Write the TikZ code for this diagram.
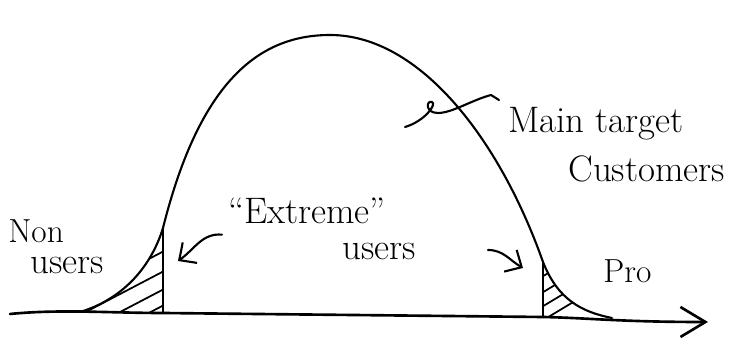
\documentclass[tikz,border=0pt]{standalone}
\usepackage{tikz}
\usetikzlibrary{arrows.meta}

\begin{document}
\begin{tikzpicture}[
		x=0.02cm, y=-0.02cm,
		pen/.style={line width=1.2pt, line cap=round, line join=round},
		hatch/.style={line width=1pt, line cap=round},
		arr/.style={pen, -{Straight Barb[length=2.6mm, width=5mm]}},
		lbl/.style={font=\fontsize{21}{24}\selectfont, inner sep=0pt, anchor=base west}
		]
		\useasboundingbox (0,0) rectangle (748,364);
		
		% Axis
		\coordinate (axis_start) at (10,314);
		\coordinate (axis_end) at (708,322);
		\draw[pen, line width=1.5pt, -{Straight Barb[length=5mm, width=6mm]}]
			(axis_start) .. controls (60,309) and (110,313) .. (163,313)
			-- (543,317) .. controls (590,318) and (620,322) .. (axis_end);
		
		% Bell curve
		\coordinate (left_foot) at (80,312);
		\coordinate (left_cut) at (163,228);
		\coordinate (left_base) at (163,313);
		\coordinate (right_cut) at (543,262);
		\coordinate (right_base) at (543,317);
		\coordinate (right_foot) at (612,318);
		\draw[pen] (left_foot) .. controls (120,300) and (150,270) .. (left_cut)
			.. controls (200,80) and (260,35) .. (330,35)
			.. controls (420,35) and (500,140) .. (right_cut)
			.. controls (558,300) and (582,312) .. (right_foot);
		\draw[pen] (left_cut) -- (left_base);
		\draw[pen] (right_cut) -- (right_base);
		
		% Hatching, left tail
		\begin{scope}
			\clip (left_foot) .. controls (120,300) and (150,270) .. (left_cut) -- (left_base) -- cycle;
			\foreach \y in {250,270,288,304}
				\draw[hatch] (166,\y) -- ++(-130,68);
		\end{scope}
		
		% Hatching, right tail
		\begin{scope}
			\clip (right_cut) .. controls (558,300) and (582,312) .. (right_foot) -- (right_base) -- cycle;
			\foreach \y in {278,294,308,322}
				\draw[hatch] (540,\y) -- ++(80,-48);
		\end{scope}
		
		% Labels
		\node[lbl] (main_target) at (508,133) {Main target};
		\node[lbl] (customers) at (568,182) {Customers};
		\node[lbl] (extreme) at (228,224) {``Extreme''};
		\node[lbl] (extreme_users) at (342,260) {users};
		\node[lbl, font=\fontsize{19}{22}\selectfont] (non) at (8,243) {Non};
		\node[lbl] (non_users) at (30,274) {users};
		\node[lbl, font=\fontsize{19}{22}\selectfont] (pro) at (603,283) {Pro};
		
		% Pointers
		\coordinate (hook) at (499,100);
		\coordinate (main_end) at (405,127);
		\draw[pen] (hook) -- (491,95)
			.. controls (472,100) and (452,113) .. (438,113)
			.. controls (425,113) and (426,100) .. (432,102)
			.. controls (437,104) and (425,121) .. (main_end);
		
		\coordinate (left_tip) at (178,261);
		\coordinate (right_tip) at (523,268);
		\draw[arr] (extreme.south west) ++(-6,10) to[out=175, in=35] (left_tip);
		\draw[arr] (extreme_users.west) ++(146,-2) to[out=0, in=150] (right_tip);
		
	\end{tikzpicture}
\end{document}
